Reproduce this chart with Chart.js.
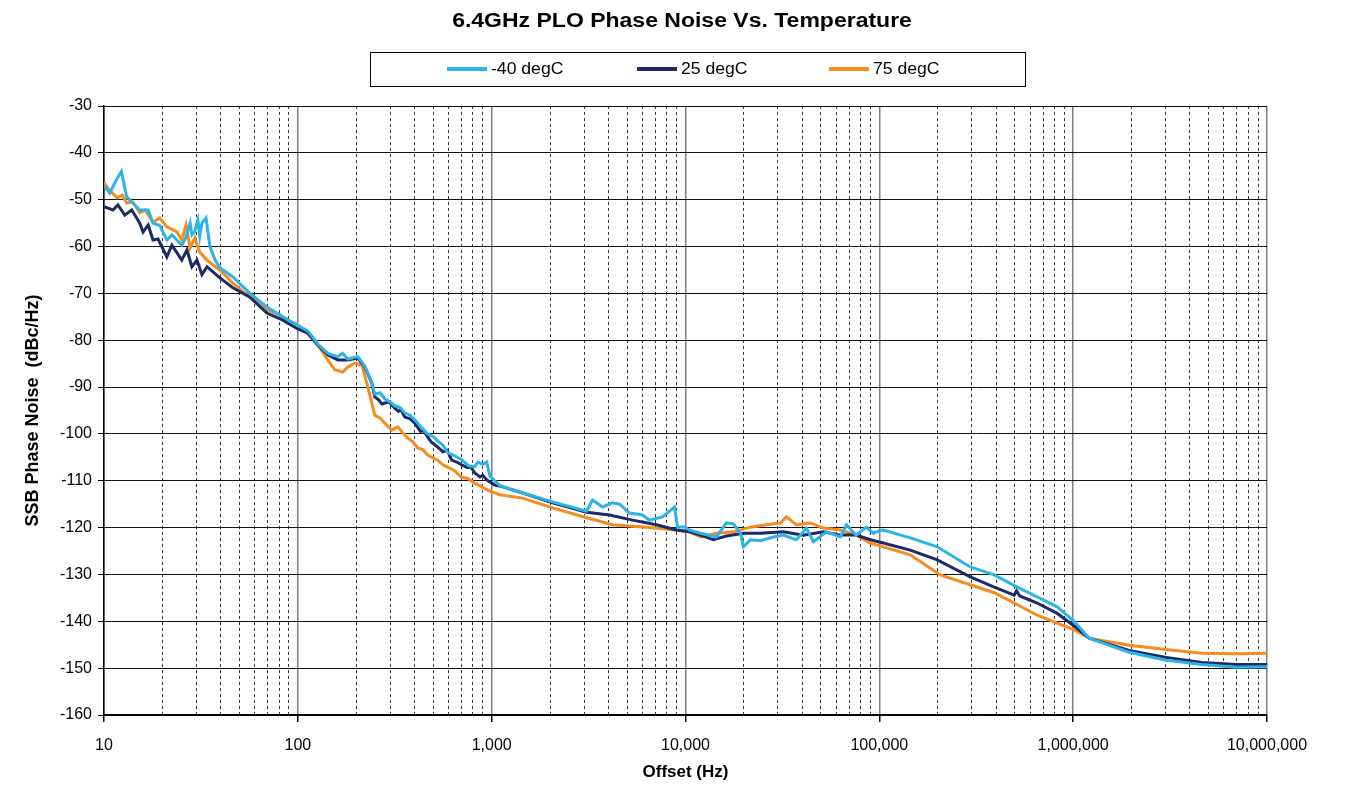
<!DOCTYPE html>
<html lang="en">
<head>
<meta charset="UTF-8">
<title>6.4GHz PLO Phase Noise Vs. Temperature</title>
<script src="https://cdn.jsdelivr.net/npm/chart.js@4.4.0/dist/chart.umd.min.js"></script>
<style>
  html, body { margin: 0; padding: 0; background: #fff; }
</style>
</head>
<body>
<canvas id="chart" width="1355" height="787"></canvas>
<script>
const chartTitle = '6.4GHz PLO Phase Noise Vs. Temperature';
const seriesNames = ['-40 degC', '25 degC', '75 degC'];
const seriesColors = ['#2cb4e8', '#1c2a66', '#f68b1f'];

const xDecades = [10, 100, 1000, 10000, 100000, 1000000, 10000000];
const xTickLabels = ['10', '100', '1,000', '10,000', '100,000', '1,000,000', '10,000,000'];

// -40 degC
const freqM40 = [10, 10.7, 11.5, 12.3, 13.1, 14.1, 15.3, 16.9, 17.9, 19.4, 21.1, 22.4, 25.2, 26.5, 27.8, 28.4, 29.4, 30.5, 31.2, 32, 33.6, 35.2, 37.4, 39.6, 46.2, 56.6, 69.2, 83.7, 96.5,
  112.6, 126.8, 142.7, 160.8, 170, 181, 203.8, 221.5, 240.7, 249.4, 265, 280.9, 300, 316, 335, 356, 380, 401, 430, 468, 500, 527, 560, 593, 640, 700, 760, 817, 850, 900, 942, 980,
  1036, 1099, 1445, 2063, 3088, 3313, 3733, 4205, 4571, 5140, 6000, 6518, 7605, 8770, 9100, 9765,
  10487, 11950, 14450, 16260, 17660, 19210, 19900, 21630, 24360, 28420, 31990, 37330, 42050, 45700, 53320, 62950, 67610, 75900, 85690, 93110,
  101200, 104860, 144500, 199000, 294400, 391600, 514500, 652300, 827000, 1012000, 1209000, 1944000, 3015000, 4624000, 6918000, 10000000];
const dbM40 = [-47, -48.6, -46, -44, -49.4, -50.7, -52.2, -52.2, -55, -55.5, -58.6, -57.5, -59.7, -58, -55, -57.5, -56.8, -54.3, -57.8, -55, -53.9, -60, -62.9, -64.5, -66.5, -70, -72.9, -75, -76.5,
  -78, -80.8, -82.8, -83.5, -82.8, -84, -83.5, -85.5, -89, -91.5, -91.2, -92.5, -93.2, -94, -94.3, -95.5, -96, -97, -98.4, -100, -100.6, -101.5, -102.4, -104, -104.6, -105.5, -106.8, -107, -106, -106.5, -106, -109,
  -110, -111, -112.6, -114.5, -116.5, -114.1, -115.6, -114.7, -115, -116.9, -117.3, -118.4, -117.7, -115.6, -119.9, -119.8,
  -120.5, -121.2, -122, -119, -119.2, -121.2, -124.1, -122.6, -122.8, -122, -121.6, -122.6, -120.1, -123, -120.9, -122, -119.4, -121.6, -119.9, -121.2,
  -120.6, -120.5, -122.2, -124.1, -128.4, -130.1, -132.7, -134.8, -136.9, -140, -143.6, -146.6, -148.3, -149.2, -149.8, -149.7];

// 25 degC
const freq25 = [10, 11.13, 11.8, 12.8, 13.9, 15.3, 15.9, 16.9, 17.9, 19, 21.1, 22.4, 25.2, 26.8, 28.4, 30.2, 32, 34, 39.6, 46.2, 56.6, 69.2, 83.7,
  100, 112.6, 126.8, 142.7, 160.8, 181, 203.8, 221.5, 240.7, 249.4, 262, 272, 280.9, 295, 316, 330, 340, 356, 380, 401, 430, 445, 468, 490, 527, 560, 590, 622, 660, 700, 750, 780, 817, 870, 900, 942,
  1036, 1099, 1445, 2063, 3088, 4056, 5334, 7080, 8992,
  10487, 11950, 13940, 16260, 19900, 24360, 31990, 40550, 51410, 62950, 75900, 89860,
  104860, 144500, 199000, 294400, 391600, 496500, 510000, 530000, 652300, 827000, 1012000, 1209000, 1944000, 3015000, 4624000, 6918000, 10000000];
const db25 = [-51.5, -52.2, -51.1, -53.3, -52.2, -55, -56.9, -55.4, -58.6, -58.4, -62.2, -59.7, -62.9, -60.7, -64.3, -62.9, -66, -64.3, -66.7, -68.8, -70.8, -74.2, -75.7,
  -77.6, -78.5, -81, -83.1, -84.2, -84.2, -83.8, -85.7, -89.1, -92.1, -92.8, -93.6, -93.4, -93.2, -94.5, -95.2, -94.8, -96.4, -96.8, -97.7, -99.5, -99.2, -100.7, -101.8, -102.8, -103.8, -103.5, -105.6, -106, -106.6, -107.2, -107, -108.3, -109.2, -108.8, -109.8,
  -110.9, -111.1, -112.6, -114.7, -116.7, -117.3, -118.4, -119.4, -120.5,
  -120.9, -121.6, -122.6, -121.8, -121.2, -121.2, -120.9, -121.6, -120.9, -121.6, -121.6, -122.6,
  -123.3, -124.8, -126.9, -130.5, -132.7, -134.4, -133.5, -134.6, -136.1, -138.3, -141, -143.6, -146.2, -147.7, -148.8, -149.2, -149.2];

// 75 degC
const freq75 = [10, 10.7, 11.7, 12.4, 13.1, 14.1, 15.3, 16.3, 17.9, 19.4, 21.1, 23.8, 25.2, 26.5, 27.8, 29.4, 31.2, 34, 39.6, 46.2, 56.6, 69.2, 80.8, 87.7, 96.5,
  112.6, 126.8, 142.7, 155, 170.6, 181, 196.7, 213.8, 226.9, 240.7, 249.4, 265, 280.9, 305, 328, 345, 369, 390, 416, 440, 468, 500, 527, 560, 593, 640, 700, 760, 817, 880, 953,
  1036, 1099, 1445, 2063, 3088, 4205, 5334, 7080,
  10487, 11950, 14450, 17660, 21630, 26160, 30880, 33170, 37330, 44060, 51410, 62950, 75900, 89860,
  104860, 144500, 206300, 294400, 391600, 496500, 652300, 827000, 1012000, 1209000, 1944000, 3015000, 4624000, 6918000, 10000000];
const db75 = [-46.4, -48, -49.6, -49, -50.7, -50.5, -52.8, -52.2, -54.8, -53.9, -55.8, -56.9, -58.6, -55.4, -60.3, -58.2, -61.2, -62.9, -65, -67.8, -70.8, -73.5, -74.6, -76.3, -76.3,
  -78.5, -81, -84.2, -86.3, -86.8, -85.7, -84.9, -85.3, -89.1, -93.4, -96, -96.6, -97.7, -99.2, -98.5, -99.6, -100.9, -101.6, -103, -103.3, -104.5, -105.1, -105.6, -106.6, -107.1, -107.8, -109.2, -109.6, -110.5, -111.2, -112,
  -112.6, -113, -113.7, -115.8, -117.9, -119.4, -119.7, -120.1,
  -120.9, -122, -121.2, -120.9, -119.9, -119.4, -119, -117.7, -119.4, -119, -120.1, -120.5, -121.6, -123.3,
  -124.1, -125.8, -130.1, -132.2, -133.9, -136.1, -138.7, -140.4, -141.8, -143.6, -145.1, -146, -146.8, -146.9, -146.8];

const seriesFreqs = [freqM40, freq25, freq75];
const seriesDb = [dbM40, db25, db75];

const FONT = '"Liberation Sans", Arial, sans-serif';

function isDecade(v) {
  const l = Math.log10(v);
  return Math.abs(l - Math.round(l)) < 1e-9;
}

// all 1..9 x 10^n ticks for the log grid
const xGridTicks = [];
for (let d = 0; d < xDecades.length; d++) {
  for (let m = 1; m <= 9; m++) {
    if (d === xDecades.length - 1 && m > 1) break;
    xGridTicks.push(m * xDecades[d]);
  }
}

const datasets = seriesNames.map((name, i) => ({
  label: name,
  data: seriesFreqs[i].map((f, j) => ({ x: f, y: seriesDb[i][j] })),
  borderColor: seriesColors[i],
  backgroundColor: seriesColors[i],
  borderWidth: 3,
  pointRadius: 0,
  tension: 0,
  fill: false
}));

// title and boxed legend drawn on top
const headerPlugin = {
  id: 'header',
  afterDraw(chart) {
    const ctx = chart.ctx;
    ctx.save();
    ctx.fillStyle = '#000';
    ctx.textBaseline = 'middle';
    ctx.font = 'bold 20px ' + FONT;
    ctx.textAlign = 'center';
    ctx.save();
    ctx.translate(682, 21);
    ctx.scale(1.15, 1);
    ctx.fillText(chartTitle, 0, 0);
    ctx.restore();

    ctx.strokeStyle = '#000';
    ctx.lineWidth = 1;
    ctx.strokeRect(370.5, 52.5, 655, 34);

    const starts = [447, 637, 829];
    ctx.font = '16px ' + FONT;
    ctx.textAlign = 'left';
    chart.data.datasets.forEach((ds, i) => {
      ctx.strokeStyle = ds.borderColor;
      ctx.lineWidth = 4;
      ctx.beginPath();
      ctx.moveTo(starts[i], 69);
      ctx.lineTo(starts[i] + 40, 69);
      ctx.stroke();
      ctx.save();
      ctx.translate(starts[i] + 44, 70);
      ctx.scale(1.1, 1);
      ctx.fillStyle = '#000';
      ctx.fillText(ds.label, 0, 0);
      ctx.restore();
    });
    ctx.restore();
  }
};

const ctx = document.getElementById('chart').getContext('2d');
new Chart(ctx, {
  type: 'line',
  data: { datasets: datasets },
  plugins: [headerPlugin],
  options: {
    responsive: false,
    animation: false,
    layout: { padding: { top: 106, left: 0, right: 88, bottom: 0 } },
    plugins: {
      legend: { display: false },
      title: { display: false },
      tooltip: { enabled: false }
    },
    scales: {
      x: {
        type: 'logarithmic',
        min: 10,
        max: 10000000,
        afterBuildTicks: s => { s.ticks = xGridTicks.map(v => ({ value: v, major: isDecade(v) })); },
        afterFit: s => { s.height = 72; s.paddingLeft = 0; s.paddingRight = 0; },
        ticks: {
          autoSkip: false,
          maxRotation: 0,
          padding: 14,
          color: '#000',
          font: { family: FONT, size: 16 },
          callback: v => {
            const i = xDecades.indexOf(v);
            return i >= 0 ? xTickLabels[i] : '';
          }
        },
        grid: {
          color: c => (c.tick && isDecade(c.tick.value)) ? '#7f7f7f' : '#3a3a3a',
          lineWidth: c => (c.tick && isDecade(c.tick.value)) ? 1.5 : 1,
          tickLength: 7,
          tickColor: c => (c.tick && isDecade(c.tick.value)) ? '#000' : 'rgba(0,0,0,0)'
        },
        border: {
          color: '#000',
          width: 1.5,
          dash: c => (c.tick && !isDecade(c.tick.value)) ? [3, 3] : []
        },
        title: {
          display: true,
          text: 'Offset (Hz)',
          color: '#000',
          font: { family: FONT, size: 17, weight: 'bold' },
          padding: { top: 0, bottom: 4 }
        }
      },
      y: {
        type: 'linear',
        min: -160,
        max: -30,
        afterFit: s => { s.width = 104; s.paddingTop = 0; s.paddingBottom = 0; },
        ticks: {
          stepSize: 10,
          padding: 6,
          color: '#000',
          font: { family: FONT, size: 16 }
        },
        grid: {
          color: '#111',
          lineWidth: 1,
          tickLength: 6,
          tickColor: '#000'
        },
        border: { color: '#000', width: 1.5 },
        title: {
          display: true,
          text: 'SSB Phase Noise  (dBc/Hz)',
          color: '#000',
          font: { family: FONT, size: 18, weight: 'bold' },
          padding: { top: 22, bottom: 0 }
        }
      }
    }
  }
});
</script>
</body>
</html>
